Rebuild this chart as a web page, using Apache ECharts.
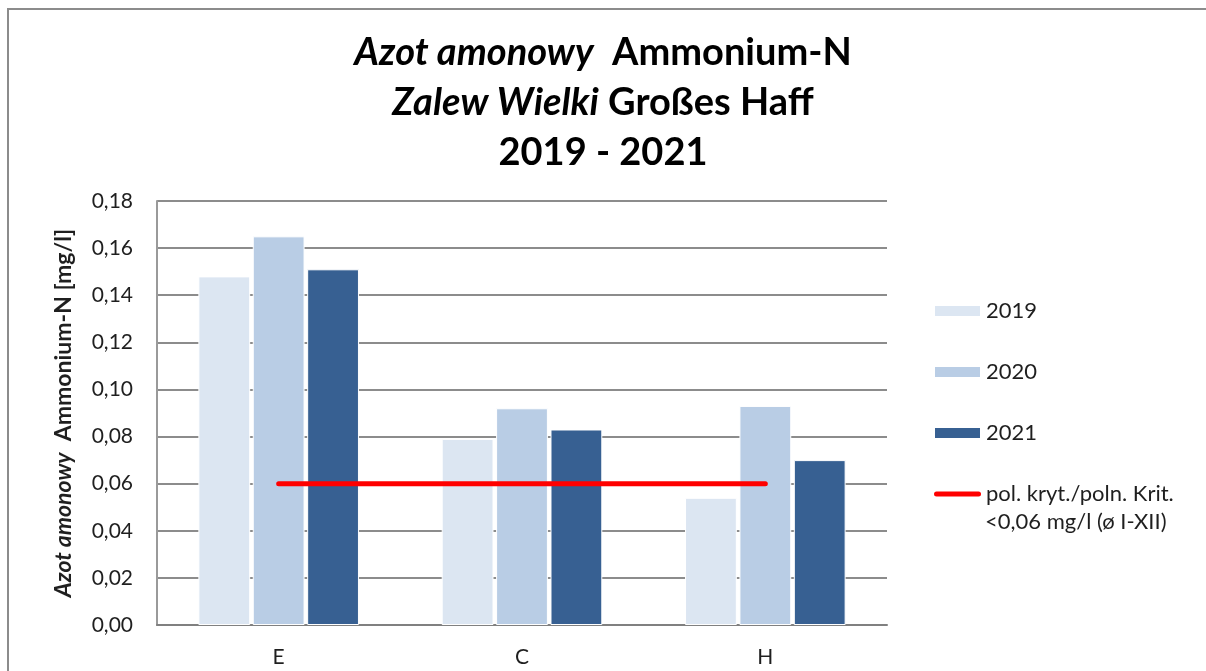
<!DOCTYPE html>
<html>
<head>
<meta charset="utf-8">
<script src="https://cdn.jsdelivr.net/npm/echarts@6/dist/echarts.min.js"></script>
<style>
html,body{margin:0;padding:0;background:#fff;}
#chart{width:1206px;height:671px;}
</style>
</head>
<body>
<div id="chart"></div>
<script>
// ---- data ----
var categories = ['E', 'C', 'H'];
var seriesNames = ['2019', '2020', '2021'];
var values2019 = [0.148, 0.079, 0.054];
var values2020 = [0.165, 0.092, 0.093];
var values2021 = [0.151, 0.083, 0.070];
var criterionName = 'pol. kryt./poln. Krit.';
var criterionNote = '<0,06 mg/l (ø I-XII)';
var criterionValues = [0.06, 0.06, 0.06];
var yTicks = { min: 0, max: 0.18, interval: 0.02 };

var FONT = 'Lato, "Open Sans", sans-serif';
var TXT = '#1f1f1f';
var colors = ['#dce6f2', '#b9cde5', '#376092'];

var chart = echarts.init(document.getElementById('chart'), null, { renderer: 'canvas' });

function barSeries(name, data, color) {
  return {
    name: name,
    type: 'bar',
    data: data,
    barGap: '5%',
    barCategoryGap: '34%',
    itemStyle: { color: color, borderColor: '#ffffff', borderWidth: 1 }
  };
}

var capsule = 'path://M2.5,0 L44.5,0 A2.5,2.5 0 0 1 44.5,5 L2.5,5 A2.5,2.5 0 0 1 2.5,0 Z';

var option = {
  backgroundColor: '#ffffff',
  animation: false,
  textStyle: { fontFamily: FONT },
  title: {
    left: 'center',
    top: 28,
    padding: 0,
    text: '{i|Azot amonowy}  {b|Ammonium-N}\n{i|Zalew Wielki} {b|Großes Haff}\n{b|2019 - 2021}',
    textStyle: {
      fontFamily: FONT,
      fontSize: 38,
      lineHeight: 50,
      color: '#000',
      rich: {
        i: { fontFamily: FONT, fontSize: 38, lineHeight: 50, fontStyle: 'italic', fontWeight: 'bold', color: '#000' },
        b: { fontFamily: FONT, fontSize: 38, lineHeight: 50, fontWeight: 'bold', color: '#000' }
      }
    }
  },
  grid: { left: 157, right: 319, top: 201, bottom: 46, containLabel: false },
  legend: {
    orient: 'vertical',
    left: 933,
    top: 300,
    padding: 0,
    itemWidth: 47,
    itemHeight: 12,
    itemGap: 39,
    textStyle: { fontFamily: FONT, fontSize: 22, lineHeight: 22, color: TXT },
    data: [
      { name: seriesNames[0], icon: 'rect' },
      { name: seriesNames[1], icon: 'rect' },
      { name: seriesNames[2], icon: 'rect' },
      { name: criterionName, icon: capsule, itemStyle: { color: '#ff0000' } }
    ]
  },
  graphic: [
    {
      type: 'rect',
      shape: { x: 8, y: 9, width: 1210, height: 680 },
      style: { fill: 'none', stroke: '#8c8c8c', lineWidth: 2 },
      silent: true
    },
    {
      type: 'text',
      left: 985,
      top: 511,
      style: { text: criterionNote, fontFamily: FONT, fontSize: 22, fill: TXT }
    }
  ],
  xAxis: {
    type: 'category',
    data: categories,
    axisLine: { show: true, lineStyle: { color: '#808080', width: 2 } },
    axisTick: { show: false },
    axisLabel: { fontFamily: FONT, fontSize: 21, color: TXT, margin: 22 },
    splitLine: { show: false }
  },
  yAxis: {
    type: 'value',
    min: yTicks.min,
    max: yTicks.max,
    interval: yTicks.interval,
    name: '{i|Azot amonowy}  {b|Ammonium-N [mg/l]}',
    nameLocation: 'middle',
    nameGap: 82,
    nameRotate: 90,
    nameTextStyle: {
      fontFamily: FONT,
      fontSize: 23,
      fontWeight: 'bold',
      color: TXT,
      rich: {
        i: { fontFamily: FONT, fontSize: 23, fontStyle: 'italic', fontWeight: 'bold', color: TXT },
        b: { fontFamily: FONT, fontSize: 23, fontWeight: 'bold', color: TXT }
      }
    },
    axisLine: { show: true, lineStyle: { color: '#9a9a9a', width: 2 } },
    axisTick: { show: false },
    axisLabel: {
      fontFamily: FONT, fontSize: 21, color: TXT, margin: 24,
      formatter: function (v) { return v.toFixed(2).replace('.', ','); }
    },
    splitLine: { show: true, lineStyle: { color: '#8c8c8c', width: 2 } }
  },
  series: [
    barSeries(seriesNames[0], values2019, colors[0]),
    barSeries(seriesNames[1], values2020, colors[1]),
    barSeries(seriesNames[2], values2021, colors[2]),
    {
      name: criterionName,
      type: 'line',
      data: criterionValues,
      symbol: 'none',
      z: 5,
      color: '#ff0000',
      lineStyle: { color: '#ff0000', width: 5, cap: 'round' }
    }
  ]
};

chart.setOption(option);
</script>
</body>
</html>
